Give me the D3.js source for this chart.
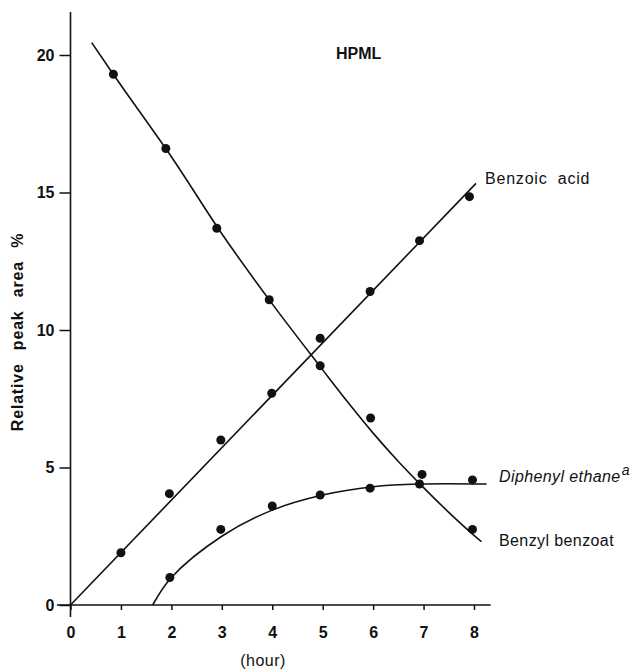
<!DOCTYPE html>
<html>
<head>
<meta charset="utf-8">
<script src="https://d3js.org/d3.v7.min.js"></script>
<style>
    body { margin: 0; background: #fff; }
    text { font-family: "Liberation Sans", Arial, sans-serif; fill: #111; }
</style>
</head>
<body>
<svg id="chart" width="639" height="671"></svg>
<script>
// measured points (hour, relative peak area %)
const benzylHours = [0.85, 1.89, 2.9, 3.94, 4.95, 5.95, 6.92, 7.97];
const benzylArea = [19.3, 16.6, 13.7, 11.1, 8.7, 6.8, 4.4, 2.75];

const benzoicHours = [1.0, 1.96, 2.98, 3.99, 4.95, 5.94, 6.92, 7.91];
const benzoicArea = [1.9, 4.05, 6.0, 7.7, 9.7, 11.4, 13.25, 14.85];

const diphenylHours = [1.97, 2.98, 4.0, 4.95, 5.94, 6.97, 7.97];
const diphenylArea = [1.0, 2.75, 3.6, 4.0, 4.25, 4.75, 4.55];

// hand drawn fit curves
const benzylFitHours = [0.42, 1, 2, 3, 4, 5, 5.5, 6, 6.5, 7, 7.5, 8, 8.15];
const benzylFitArea = [20.45, 18.9, 16.3, 13.5, 10.95, 8.55, 7.37, 6.25, 5.22, 4.27, 3.37, 2.53, 2.3];

const benzoicFitHours = [0, 8.04];
const benzoicFitArea = [0, 15.33];

const diphenylFitHours = [1.63, 2, 3, 4, 5, 6, 6.9, 8.25];
const diphenylFitArea = [0, 1.0, 2.5, 3.45, 4.0, 4.3, 4.4, 4.4];

const xTicks = [0, 1, 2, 3, 4, 5, 6, 7, 8];
const yTicks = [0, 5, 10, 15, 20];

const zip = (xs, ys) => xs.map((d, i) => ({ x: d, y: ys[i] }));

drawChart();

function drawChart() {
    let svg = d3.select("#chart");

    let x = d3.scaleLinear().domain([0, 8]).range([70.5, 474]);
    let y = d3.scaleLinear().domain([0, 20]).range([605, 55]);

    drawAxes(svg, x, y);

    let smooth = d3.line()
        .x(d => x(d.x))
        .y(d => y(d.y))
        .curve(d3.curveCatmullRom.alpha(0.5));

    let curves = [
        zip(benzylFitHours, benzylFitArea),
        zip(benzoicFitHours, benzoicFitArea),
        zip(diphenylFitHours, diphenylFitArea)
    ];

    svg.append("g")
        .selectAll("path")
        .data(curves)
        .enter()
        .append("path")
        .attr("d", smooth)
        .attr("fill", "none")
        .attr("stroke", "#111")
        .attr("stroke-width", 1.6);

    let points = zip(benzylHours, benzylArea)
        .concat(zip(benzoicHours, benzoicArea))
        .concat(zip(diphenylHours, diphenylArea));

    svg.append("g")
        .selectAll("circle")
        .data(points)
        .enter()
        .append("circle")
        .attr("cx", d => x(d.x))
        .attr("cy", d => y(d.y))
        .attr("r", 4.5)
        .attr("fill", "#111");

    drawLabels(svg, x, y);
}

function drawAxes(svg, x, y) {
    let xAxis = d3.axisBottom(x)
        .tickValues(xTicks)
        .tickSize(5)
        .tickPadding(17)
        .tickFormat(d3.format("d"));

    let gx = svg.append("g")
        .attr("transform", `translate(0,${y(0)})`)
        .call(xAxis);
    gx.select(".domain").remove();

    let yAxis = d3.axisLeft(y)
        .tickValues(yTicks)
        .tickSize(11)
        .tickPadding(5)
        .tickFormat(d3.format("d"));

    let gy = svg.append("g")
        .attr("transform", `translate(${x(0)},0)`)
        .call(yAxis);
    gy.select(".domain").remove();

    svg.selectAll(".tick line")
        .attr("stroke", "#111")
        .attr("stroke-width", 1.5);
    svg.selectAll(".tick text")
        .style("font-family", "Liberation Sans, Arial, sans-serif")
        .style("font-size", "16px")
        .style("font-weight", "bold")
        .attr("fill", "#111");

    // axis lines
    svg.append("line")
        .attr("x1", x(-0.27)).attr("x2", x(8.33))
        .attr("y1", y(0)).attr("y2", y(0))
        .attr("stroke", "#111").attr("stroke-width", 1.6);

    svg.append("line")
        .attr("x1", x(0)).attr("x2", x(0))
        .attr("y1", y(21.56)).attr("y2", y(-0.44))
        .attr("stroke", "#111").attr("stroke-width", 1.6);
}

function drawLabels(svg, x, y) {
    svg.append("text")
        .attr("x", 336).attr("y", 59)
        .style("font-size", "16px")
        .style("font-weight", "bold")
        .text("HPML");

    svg.append("text")
        .attr("x", 485).attr("y", 184)
        .style("font-size", "16px")
        .style("letter-spacing", "0.8px")
        .style("word-spacing", "5px")
        .text("Benzoic acid");

    let dip = svg.append("text")
        .attr("x", 499).attr("y", 482)
        .style("font-size", "16px")
        .style("font-style", "italic")
        .style("letter-spacing", "0.4px");
    dip.append("tspan").text("Diphenyl ethane");
    dip.append("tspan")
        .attr("dy", -7)
        .attr("dx", 1)
        .style("font-size", "14px")
        .text("a");

    svg.append("text")
        .attr("x", 499).attr("y", 546)
        .style("font-size", "16px")
        .style("letter-spacing", "0.4px")
        .text("Benzyl benzoat");

    svg.append("text")
        .attr("x", 263).attr("y", 666)
        .attr("text-anchor", "middle")
        .style("font-size", "16px")
        .style("letter-spacing", "0.5px")
        .text("(hour)");

    svg.append("text")
        .attr("transform", "translate(23,332) rotate(-90)")
        .attr("text-anchor", "middle")
        .style("font-size", "16px")
        .style("font-weight", "bold")
        .style("letter-spacing", "0.8px")
        .style("word-spacing", "8px")
        .text("Relative peak area %");
}
</script>
</body>
</html>
